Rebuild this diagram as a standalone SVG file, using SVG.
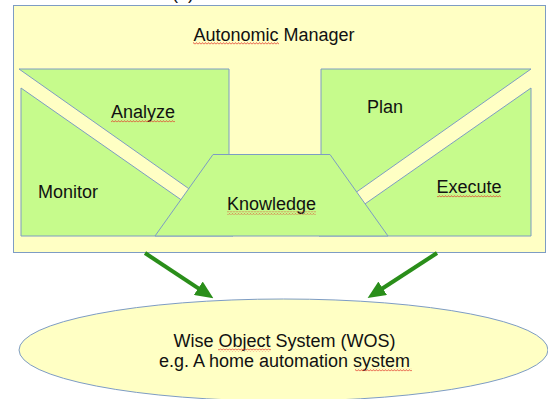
<svg xmlns="http://www.w3.org/2000/svg" width="548" height="399" viewBox="0 0 548 399">
<defs>
<style>
.t{font-family:"Liberation Sans",Arial,sans-serif;font-size:18px;fill:#111;}
.g{fill:#c6fb8c;stroke:#7d9cc4;stroke-width:1;}
.y{fill:#ffffc4;stroke:#7d9cc4;stroke-width:1;}
.arr{stroke:#2a8e1a;stroke-width:4;fill:none;marker-end:url(#ah);}
.sq{fill:url(#wave);}
</style>
<marker id="ah" markerUnits="userSpaceOnUse" markerWidth="18" markerHeight="16" refX="11" refY="8" orient="auto">
<path d="M0,0 L18,8 L0,16 Z" fill="#2a8e1a"/>
</marker>
<pattern id="wave" patternUnits="userSpaceOnUse" width="3" height="3">
<path d="M0,2.4 L1.5,0.6 L3,2.4" fill="none" stroke="#e23a2a" stroke-width="0.8"/>
</pattern>
</defs>
<text class="t" x="172" y="-0.8">(a)</text>
<g id="autonomic-manager">
<rect class="y" x="13.5" y="5.5" width="532" height="247"/>
<text class="t" x="274" y="41" text-anchor="middle">Autonomic Manager</text>
<rect class="sq" x="193" y="42" width="86" height="3"/>
</g>
<g id="analyze">
<polygon class="g" points="19,69 229,69 229,217"/>
<text class="t" x="143" y="118" text-anchor="middle">Analyze</text>
<rect class="sq" x="111" y="119.5" width="64" height="3"/>
</g>
<g id="monitor">
<polygon class="g" points="21,88 21,236 233,236"/>
<text class="t" x="68" y="198" text-anchor="middle">Monitor</text>
</g>
<g id="plan">
<polygon class="g" points="321,69 531,69 321,217"/>
<text class="t" x="385" y="113" text-anchor="middle">Plan</text>
</g>
<g id="execute">
<polygon class="g" points="531,88 531,236 319,236"/>
<text class="t" x="469" y="193" text-anchor="middle">Execute</text>
<rect class="sq" x="437" y="194.5" width="64" height="3"/>
</g>
<g id="knowledge">
<polygon class="g" points="213,154.5 330,154.5 388,236 155,236"/>
<text class="t" x="271.5" y="210" text-anchor="middle">Knowledge</text>
<rect class="sq" x="227" y="211.5" width="89" height="3"/>
</g>
<g id="wos">
<ellipse class="y" cx="283.5" cy="350" rx="264.5" ry="51"/>
<text class="t" x="284.5" y="347" text-anchor="middle">Wise Object System (WOS)</text>
<text class="t" x="284.5" y="367" text-anchor="middle">e.g. A home automation system</text>
<rect class="sq" x="218" y="348.5" width="53" height="3"/>
<rect class="sq" x="355" y="368.5" width="57" height="3"/>
</g>
<g id="connectors">
<line class="arr" x1="145" y1="253" x2="207.5" y2="294.3"/>
<line class="arr" x1="437" y1="253" x2="373.5" y2="294.3"/>
</g>
</svg>
